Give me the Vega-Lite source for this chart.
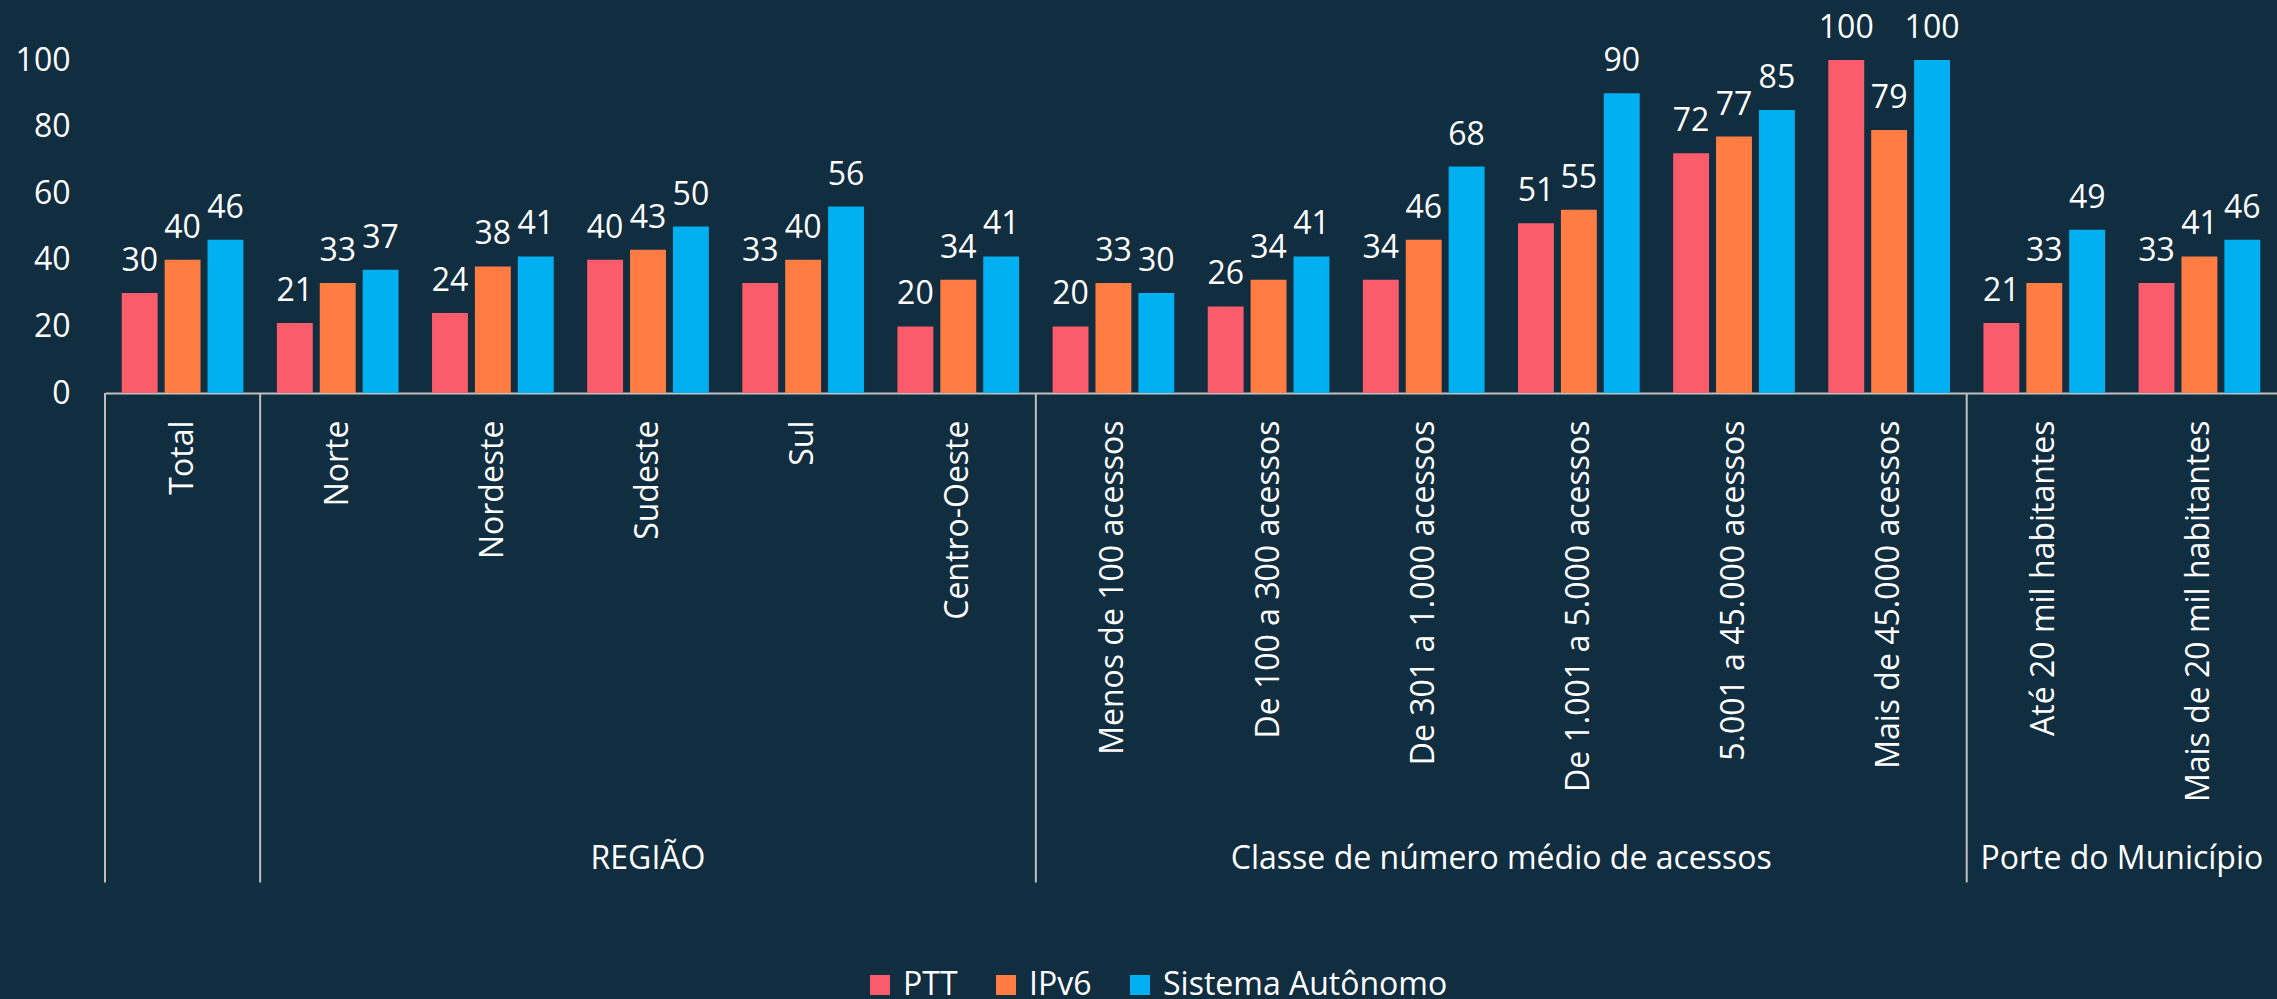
{
  "$schema": "https://vega.github.io/schema/vega-lite/v6.json",
  "width": 2172,
  "height": 333,
  "autosize": {"type": "none"},
  "padding": {"left": 105, "top": 60, "right": 0, "bottom": 606},
  "background": "#112D40",
  "config": {
    "view": {"stroke": null},
    "font": "Open Sans",
    "axisX": {
      "labelAngle": -90,
      "labelFont": "Open Sans",
      "labelFontSize": 32,
      "labelColor": "#FFFFFF",
      "labelPadding": 27,
      "ticks": false,
      "tickSize": 0,
      "domainColor": "#BFBFBF",
      "domainWidth": 2,
      "labelLimit": 1000,
      "labelOverlap": false,
      "grid": false
    },
    "axisY": {
      "labelFont": "Open Sans",
      "labelFontSize": 32,
      "labelColor": "#FFFFFF",
      "labelPadding": 35,
      "domain": false,
      "ticks": false,
      "tickSize": 0,
      "grid": false,
      "labelFlush": false
    }
  },
  "datasets": {
    "bars": [
      {"cat": "Total", "serie": "PTT", "v": 30},
      {"cat": "Total", "serie": "IPv6", "v": 40},
      {"cat": "Total", "serie": "Sistema Autônomo", "v": 46},
      {"cat": "Norte", "serie": "PTT", "v": 21},
      {"cat": "Norte", "serie": "IPv6", "v": 33},
      {"cat": "Norte", "serie": "Sistema Autônomo", "v": 37},
      {"cat": "Nordeste", "serie": "PTT", "v": 24},
      {"cat": "Nordeste", "serie": "IPv6", "v": 38},
      {"cat": "Nordeste", "serie": "Sistema Autônomo", "v": 41},
      {"cat": "Sudeste", "serie": "PTT", "v": 40},
      {"cat": "Sudeste", "serie": "IPv6", "v": 43},
      {"cat": "Sudeste", "serie": "Sistema Autônomo", "v": 50},
      {"cat": "Sul", "serie": "PTT", "v": 33},
      {"cat": "Sul", "serie": "IPv6", "v": 40},
      {"cat": "Sul", "serie": "Sistema Autônomo", "v": 56},
      {"cat": "Centro-Oeste", "serie": "PTT", "v": 20},
      {"cat": "Centro-Oeste", "serie": "IPv6", "v": 34},
      {"cat": "Centro-Oeste", "serie": "Sistema Autônomo", "v": 41},
      {"cat": "Menos de 100 acessos", "serie": "PTT", "v": 20},
      {"cat": "Menos de 100 acessos", "serie": "IPv6", "v": 33},
      {"cat": "Menos de 100 acessos", "serie": "Sistema Autônomo", "v": 30},
      {"cat": "De 100 a 300 acessos", "serie": "PTT", "v": 26},
      {"cat": "De 100 a 300 acessos", "serie": "IPv6", "v": 34},
      {"cat": "De 100 a 300 acessos", "serie": "Sistema Autônomo", "v": 41},
      {"cat": "De 301 a  1.000 acessos", "serie": "PTT", "v": 34},
      {"cat": "De 301 a  1.000 acessos", "serie": "IPv6", "v": 46},
      {"cat": "De 301 a  1.000 acessos", "serie": "Sistema Autônomo", "v": 68},
      {"cat": "De 1.001 a 5.000 acessos", "serie": "PTT", "v": 51},
      {"cat": "De 1.001 a 5.000 acessos", "serie": "IPv6", "v": 55},
      {"cat": "De 1.001 a 5.000 acessos", "serie": "Sistema Autônomo", "v": 90},
      {"cat": "5.001 a 45.000 acessos", "serie": "PTT", "v": 72},
      {"cat": "5.001 a 45.000 acessos", "serie": "IPv6", "v": 77},
      {"cat": "5.001 a 45.000 acessos", "serie": "Sistema Autônomo", "v": 85},
      {"cat": "Mais de 45.000 acessos", "serie": "PTT", "v": 100},
      {"cat": "Mais de 45.000 acessos", "serie": "IPv6", "v": 79},
      {"cat": "Mais de 45.000 acessos", "serie": "Sistema Autônomo", "v": 100},
      {"cat": "Até 20 mil habitantes", "serie": "PTT", "v": 21},
      {"cat": "Até 20 mil habitantes", "serie": "IPv6", "v": 33},
      {"cat": "Até 20 mil habitantes", "serie": "Sistema Autônomo", "v": 49},
      {"cat": "Mais de 20 mil habitantes", "serie": "PTT", "v": 33},
      {"cat": "Mais de 20 mil habitantes", "serie": "IPv6", "v": 41},
      {"cat": "Mais de 20 mil habitantes", "serie": "Sistema Autônomo", "v": 46}
    ],
    "seps": [
      {"cat": "Total"},
      {"cat": "Norte"},
      {"cat": "Menos de 100 acessos"},
      {"cat": "Até 20 mil habitantes"}
    ],
    "groupsMid": [
      {"cat": "Sudeste", "label": "REGIÃO"}
    ],
    "groupsEdge": [
      {"cat": "De 1.001 a 5.000 acessos", "label": "Classe de número médio de acessos"},
      {"cat": "Mais de 20 mil habitantes", "label": "Porte do Município"}
    ]
  },
  "layer": [
    {
      "data": {"name": "bars"},
      "mark": {"type": "bar"},
      "encoding": {
        "x": {
          "field": "cat", "type": "nominal", "title": null,
          "scale": {
            "domain": ["Total", "Norte", "Nordeste", "Sudeste", "Sul", "Centro-Oeste", "Menos de 100 acessos", "De 100 a 300 acessos", "De 301 a  1.000 acessos", "De 1.001 a 5.000 acessos", "5.001 a 45.000 acessos", "Mais de 45.000 acessos", "Até 20 mil habitantes", "Mais de 20 mil habitantes"],
            "paddingInner": 0, "paddingOuter": 0
          }
        },
        "xOffset": {
          "field": "serie", "type": "nominal",
          "scale": {"domain": ["PTT", "IPv6", "Sistema Autônomo"], "paddingInner": 0.163, "paddingOuter": 0.39}
        },
        "y": {
          "field": "v", "type": "quantitative", "title": null,
          "scale": {"domain": [0, 100], "nice": false},
          "axis": {"values": [0, 20, 40, 60, 80, 100]}
        },
        "color": {
          "field": "serie", "type": "nominal", "title": null,
          "scale": {"domain": ["PTT", "IPv6", "Sistema Autônomo"], "range": ["#FA5C6B", "#FF7D43", "#00B0F0"]},
          "legend": {
            "orient": "none",
            "direction": "horizontal",
            "legendX": 759,
            "legendY": 909,
            "symbolType": "square",
            "symbolSize": 400,
            "symbolStrokeWidth": 0,
            "labelFont": "Open Sans",
            "labelFontSize": 32,
            "labelColor": "#FFFFFF",
            "labelOffset": 7,
            "columnPadding": 32,
            "labelLimit": 1000
          }
        }
      }
    },
    {
      "data": {"name": "bars"},
      "mark": {"type": "text", "color": "#FFFFFF", "fontSize": 32, "font": "Open Sans", "baseline": "alphabetic", "align": "center", "dy": -22},
      "encoding": {
        "x": {"field": "cat", "type": "nominal", "title": null},
        "xOffset": {"field": "serie", "type": "nominal"},
        "y": {"field": "v", "type": "quantitative", "title": null},
        "text": {"field": "v", "type": "quantitative"}
      }
    },
    {
      "data": {"name": "seps"},
      "mark": {"type": "rule", "color": "#BFBFBF", "strokeWidth": 2},
      "encoding": {
        "x": {"field": "cat", "type": "nominal", "bandPosition": 0, "title": null},
        "y": {"datum": 0},
        "y2": {"datum": -147}
      }
    },
    {
      "data": {"name": "groupsMid"},
      "mark": {"type": "text", "color": "#FFFFFF", "fontSize": 32, "font": "Open Sans", "baseline": "middle", "align": "center"},
      "encoding": {
        "x": {"field": "cat", "type": "nominal", "bandPosition": 0.5, "title": null},
        "y": {"datum": -140},
        "text": {"field": "label", "type": "nominal"}
      }
    },
    {
      "data": {"name": "groupsEdge"},
      "mark": {"type": "text", "color": "#FFFFFF", "fontSize": 32, "font": "Open Sans", "baseline": "middle", "align": "center"},
      "encoding": {
        "x": {"field": "cat", "type": "nominal", "bandPosition": 0, "title": null},
        "y": {"datum": -140},
        "text": {"field": "label", "type": "nominal"}
      }
    }
  ]
}
